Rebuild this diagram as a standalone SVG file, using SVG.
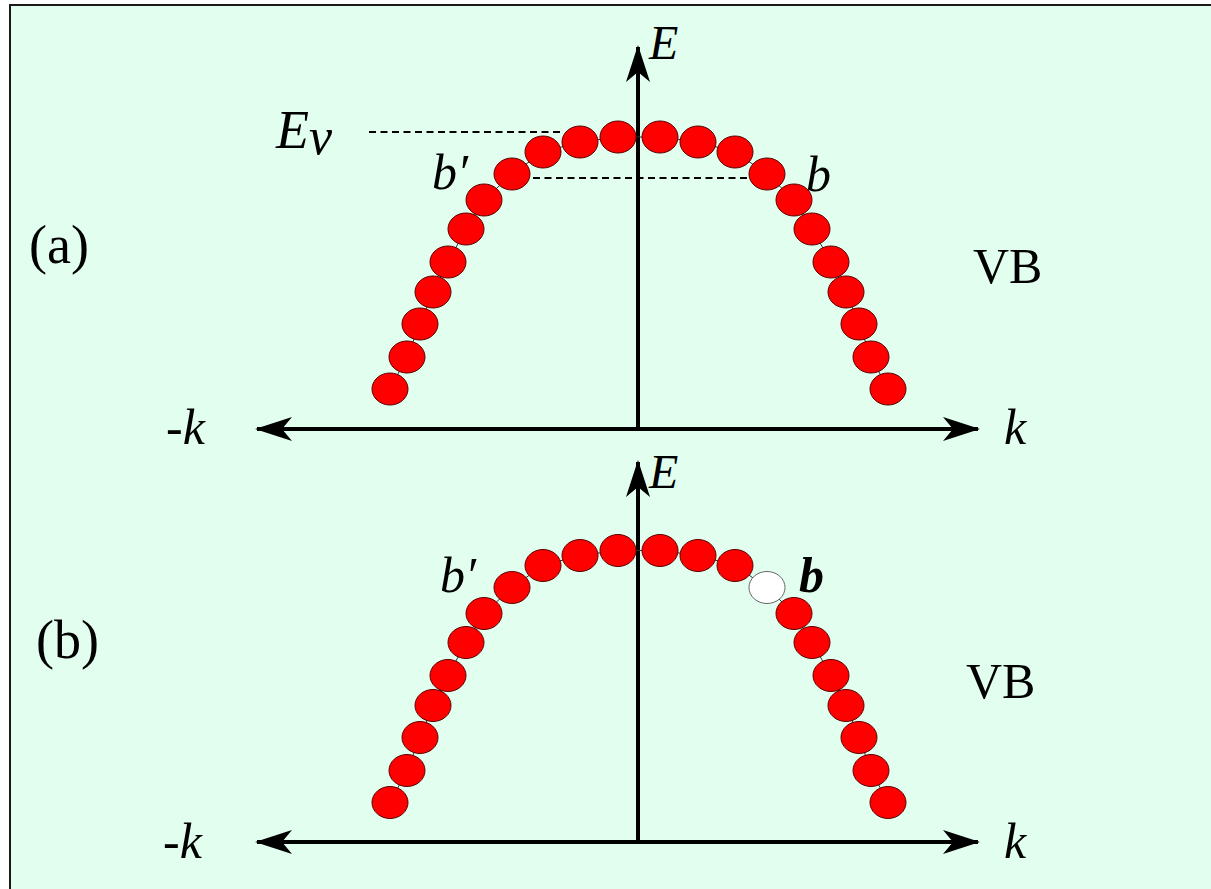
<svg xmlns="http://www.w3.org/2000/svg" width="1211" height="889" viewBox="0 0 1211 889">
<style>
.bg{fill:#E1FEEF;stroke:#1a1a1a;stroke-width:2}
.dot{fill:#FF0000;stroke:#5a0000;stroke-width:1}
.hole{fill:#FFFFFF;stroke:#666;stroke-width:1}
.axis{stroke:#000;stroke-width:4;fill:none}
.dash{stroke:#000;stroke-width:2.2;stroke-dasharray:7 4.5;fill:none}
.chain{fill:none;stroke:#333;stroke-width:1}
.it{font-family:"Liberation Serif","Times New Roman",serif;font-style:italic;fill:#000}
.up{font-family:"Liberation Serif","Times New Roman",serif;fill:#000}
</style>
<defs>
<marker id="arr" viewBox="0 0 37 24" refX="35" refY="12" markerWidth="37" markerHeight="24" markerUnits="userSpaceOnUse" orient="auto-start-reverse">
<path d="M0,0 L37,12 L0,24 L10,12 Z" fill="#000"/>
</marker>
<g id="chainA">
<polyline class="chain" points="390,389 407,357 420,324 433,292 448,262 466,229 484,200 512,174 543,152 580,142 618,137 660,137 698,142 735,152 767,174 794,200 812,229 831,262 846,292 859,324 871,357 888,389"/>
</g>
</defs>
<rect class="bg" x="10" y="5" width="1210" height="895"/>

<g id="connectors">
<line class="dash" x1="369" y1="132" x2="563" y2="132"/>
<line class="dash" x1="533" y1="178" x2="750" y2="178"/>
<line class="axis" x1="257" y1="429" x2="978" y2="429" marker-start="url(#arr)" marker-end="url(#arr)"/>
<line class="axis" x1="638" y1="429" x2="638" y2="47" marker-end="url(#arr)"/>
<line class="axis" x1="257" y1="842" x2="978" y2="842" marker-start="url(#arr)" marker-end="url(#arr)"/>
<line class="axis" x1="638" y1="842" x2="638" y2="462" marker-end="url(#arr)"/>
</g>

<g id="bandA">
<use href="#chainA"/>
<ellipse class="dot" cx="390" cy="389" rx="18" ry="16"/>
<ellipse class="dot" cx="407" cy="357" rx="18" ry="16"/>
<ellipse class="dot" cx="420" cy="324" rx="18" ry="16"/>
<ellipse class="dot" cx="433" cy="292" rx="18" ry="16"/>
<ellipse class="dot" cx="448" cy="262" rx="18" ry="16"/>
<ellipse class="dot" cx="466" cy="229" rx="18" ry="16"/>
<ellipse class="dot" cx="484" cy="200" rx="18" ry="16"/>
<ellipse class="dot" cx="512" cy="174" rx="18" ry="16"/>
<ellipse class="dot" cx="543" cy="152" rx="18" ry="16"/>
<ellipse class="dot" cx="580" cy="142" rx="18" ry="16"/>
<ellipse class="dot" cx="618" cy="137" rx="18" ry="16"/>
<ellipse class="dot" cx="660" cy="137" rx="18" ry="16"/>
<ellipse class="dot" cx="698" cy="142" rx="18" ry="16"/>
<ellipse class="dot" cx="735" cy="152" rx="18" ry="16"/>
<ellipse class="dot" cx="767" cy="174" rx="18" ry="16"/>
<ellipse class="dot" cx="794" cy="200" rx="18" ry="16"/>
<ellipse class="dot" cx="812" cy="229" rx="18" ry="16"/>
<ellipse class="dot" cx="831" cy="262" rx="18" ry="16"/>
<ellipse class="dot" cx="846" cy="292" rx="18" ry="16"/>
<ellipse class="dot" cx="859" cy="324" rx="18" ry="16"/>
<ellipse class="dot" cx="871" cy="357" rx="18" ry="16"/>
<ellipse class="dot" cx="888" cy="389" rx="18" ry="16"/>
</g>

<g id="bandB" transform="translate(0,413.5)">
<use href="#chainA"/>
<ellipse class="dot" cx="390" cy="389" rx="18" ry="16"/>
<ellipse class="dot" cx="407" cy="357" rx="18" ry="16"/>
<ellipse class="dot" cx="420" cy="324" rx="18" ry="16"/>
<ellipse class="dot" cx="433" cy="292" rx="18" ry="16"/>
<ellipse class="dot" cx="448" cy="262" rx="18" ry="16"/>
<ellipse class="dot" cx="466" cy="229" rx="18" ry="16"/>
<ellipse class="dot" cx="484" cy="200" rx="18" ry="16"/>
<ellipse class="dot" cx="512" cy="174" rx="18" ry="16"/>
<ellipse class="dot" cx="543" cy="152" rx="18" ry="16"/>
<ellipse class="dot" cx="580" cy="142" rx="18" ry="16"/>
<ellipse class="dot" cx="618" cy="137" rx="18" ry="16"/>
<ellipse class="dot" cx="660" cy="137" rx="18" ry="16"/>
<ellipse class="dot" cx="698" cy="142" rx="18" ry="16"/>
<ellipse class="dot" cx="735" cy="152" rx="18" ry="16"/>
<ellipse class="hole" cx="767" cy="174" rx="18" ry="16"/>
<ellipse class="dot" cx="794" cy="200" rx="18" ry="16"/>
<ellipse class="dot" cx="812" cy="229" rx="18" ry="16"/>
<ellipse class="dot" cx="831" cy="262" rx="18" ry="16"/>
<ellipse class="dot" cx="846" cy="292" rx="18" ry="16"/>
<ellipse class="dot" cx="859" cy="324" rx="18" ry="16"/>
<ellipse class="dot" cx="871" cy="357" rx="18" ry="16"/>
<ellipse class="dot" cx="888" cy="389" rx="18" ry="16"/>
</g>

<g id="labelsA">
<text class="it" x="649" y="59" font-size="48">E</text>
<text class="it" x="276" y="148" font-size="54">E<tspan font-size="52" dy="6">v</tspan></text>
<text class="it" x="432" y="189" font-size="50">b′</text>
<text class="it" x="806" y="191" font-size="50">b</text>
<text class="up" x="29" y="263" font-size="54">(a)</text>
<text class="up" x="973" y="283" font-size="50">VB</text>
<text class="it" x="166" y="444" font-size="50">-k</text>
<text class="it" x="1004" y="444" font-size="50">k</text>
</g>

<g id="labelsB">
<text class="it" x="649" y="488" font-size="48">E</text>
<text class="it" x="440" y="592" font-size="50">b′</text>
<text class="it" x="799" y="592" font-size="50" font-weight="bold">b</text>
<text class="up" x="36" y="658" font-size="54">(b)</text>
<text class="up" x="966" y="698" font-size="50">VB</text>
<text class="it" x="163" y="858" font-size="50">-k</text>
<text class="it" x="1004" y="858" font-size="50">k</text>
</g>
</svg>
